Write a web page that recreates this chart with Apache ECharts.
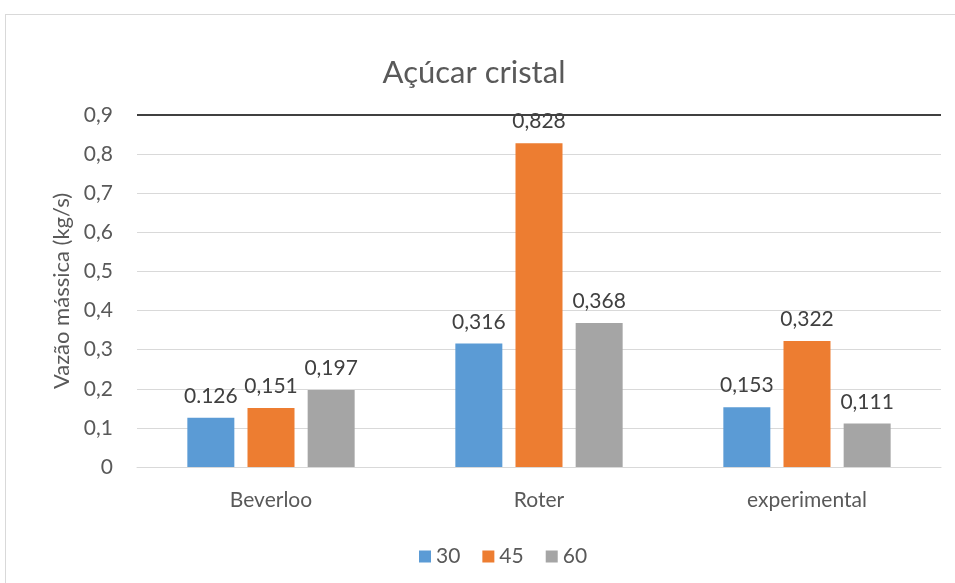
<!DOCTYPE html>
<html>
<head>
<meta charset="utf-8">
<script src="https://cdn.jsdelivr.net/npm/echarts@6/dist/echarts.min.js"></script>
<style>
  html, body { margin: 0; padding: 0; background: #fff; }
  #chart { width: 955px; height: 583px; }
  #frame { position: absolute; left: 5px; top: 14px; width: 960px; height: 600px; border: 1px solid #d9d9d9; box-sizing: border-box; pointer-events: none; }
</style>
</head>
<body>
<div id="chart"></div>
<div id="frame"></div>
<script>
const categories = ['Beverloo', 'Roter', 'experimental'];
const seriesNames = ['30', '45', '60'];
const values30 = [0.126, 0.316, 0.153];
const values45 = [0.151, 0.828, 0.322];
const values60 = [0.197, 0.368, 0.111];
const yTicks = [0, 0.1, 0.2, 0.3, 0.4, 0.5, 0.6, 0.7, 0.8, 0.9];
const colors = ['#5B9BD5', '#ED7D31', '#A5A5A5'];

const font = 'Lato';
const textColor = '#595959';

function fmt(v) {
  return String(v).replace('.', ',');
}

const chart = echarts.init(document.getElementById('chart'));

const allValues = [values30, values45, values60];
const series = allValues.map((vals, i) => ({
  name: seriesNames[i],
  type: 'bar',
  data: vals,
  barWidth: 47,
  barGap: '28%',
  itemStyle: { color: colors[i] },
  label: {
    show: true,
    position: 'top',
    distance: 11,
    color: '#404040',
    fontFamily: font,
    fontSize: 21,
    // the first Beverloo value is printed with a point in the source sheet
    formatter: p => (i === 0 && p.dataIndex === 0) ? String(p.value) : fmt(p.value)
  }
}));

// dark rule across the top of the value axis, drawn above the labels
series.push({
  type: 'line',
  data: [],
  z: 20,
  silent: true,
  markLine: {
    z: 20,
    symbol: 'none',
    silent: true,
    label: { show: false },
    lineStyle: { color: '#404040', width: 2, type: 'solid' },
    data: [{ yAxis: yTicks[yTicks.length - 1] }]
  }
});

chart.setOption({
  animation: false,
  textStyle: { fontFamily: font },
  title: {
    text: 'Açúcar cristal',
    left: 469,
    top: 52,
    textAlign: 'center',
    textStyle: { fontFamily: font, fontSize: 31, fontWeight: 'normal', color: textColor }
  },
  legend: {
    data: seriesNames,
    left: 414,
    top: 541,
    itemWidth: 12,
    itemHeight: 12,
    itemGap: 22,
    icon: 'rect',
    textStyle: { fontFamily: font, fontSize: 21, color: textColor }
  },
  grid: { left: 137, right: 14, top: 115, bottom: 116, containLabel: false },
  xAxis: {
    type: 'category',
    data: categories,
    axisLine: { lineStyle: { color: '#d9d9d9', width: 1 } },
    axisTick: { show: false },
    axisLabel: { color: textColor, fontFamily: font, fontSize: 21, margin: 23 }
  },
  yAxis: {
    type: 'value',
    min: 0,
    max: 0.9,
    interval: 0.1,
    name: 'Vazão mássica (kg/s)',
    nameLocation: 'middle',
    nameGap: 64,
    nameRotate: 90,
    nameTextStyle: { color: textColor, fontFamily: font, fontSize: 22 },
    axisLine: { show: false },
    axisTick: { show: false },
    axisLabel: {
      color: textColor, fontFamily: font, fontSize: 21, margin: 24,
      formatter: v => fmt(Math.round(v * 10) / 10)
    },
    splitLine: { lineStyle: { color: '#d9d9d9', width: 1 } }
  },
  series: series
});
</script>
</body>
</html>
